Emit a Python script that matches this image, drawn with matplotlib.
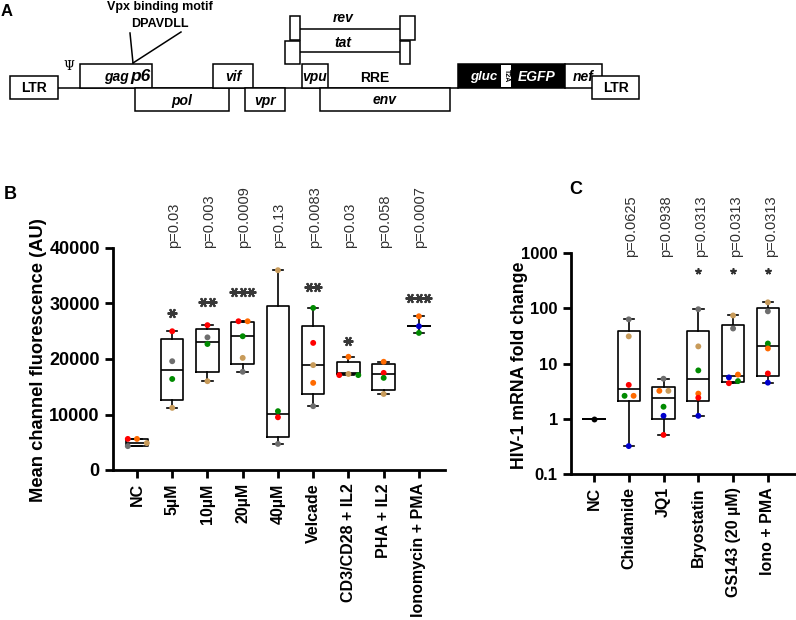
import matplotlib
matplotlib.use("Agg")
import matplotlib.pyplot as plt
from matplotlib.patches import Rectangle

plt.rcParams['font.family'] = ['Liberation Sans', 'DejaVu Sans']

# ---- panel B data ----
b_groups = ["NC", "5µM", "10µM", "20µM", "40µM", "Velcade",
            "CD3/CD28 + IL2", "PHA + IL2", "Ionomycin + PMA"]
# (min, q1, median, q3, max)
b_stats = [(4300, 4400, 4850, 5550, 5600),
           (11200, 12600, 18000, 23600, 25000),
           (16000, 17700, 23100, 25400, 26100),
           (17700, 19100, 24100, 26700, 26800),
           (4700, 5900, 10100, 29500, 36000),
           (11500, 13700, 18900, 25900, 29200),
           (17100, 17300, 17400, 19500, 20400),
           (13700, 14400, 17300, 19100, 19500),
           (24700, 25900, 25900, 25900, 27700)]
b_points = [[5600, 5600, 4300, 4860],
            [25000, 19600, 16400, 11200],
            [26100, 23900, 22700, 16000],
            [26800, 26800, 24100, 20200, 17700],
            [36000, 10600, 9500, 4700],
            [29200, 22900, 18900, 15700, 11500],
            [17100, 17300, 17100, 20400],
            [19500, 17500, 16600, 13700],
            [27700, 25900, 24700]]
b_colors = [["red", "orange", "gray", "tan"],
            ["red", "gray", "green", "tan"],
            ["red", "gray", "green", "tan"],
            ["red", "orange", "green", "tan", "gray"],
            ["tan", "green", "red", "gray"],
            ["green", "red", "tan", "orange", "gray"],
            ["red", "tan", "green", "orange"],
            ["orange", "red", "green", "tan"],
            ["orange", "blue", "green"]]
b_jitter = [[-0.26, 0, -0.26, 0.28], [0] * 4, [0] * 4, [-0.12, 0.14, 0, 0, 0],
            [0] * 4, [0] * 5, [-0.26, 0, 0.28, 0], [0] * 4, [0] * 3]
b_pvals = ["", "p=0.03", "p=0.003", "p=0.0009", "p=0.13", "p=0.0083",
           "p=0.03", "p=0.058", "p=0.0007"]
b_stars = [0, 1, 2, 3, 0, 2, 1, 0, 3]
b_star_y = [0, 28300, 30300, 32100, 0, 33000, 23200, 0, 31000]

# ---- panel C data ----
c_groups = ["NC", "Chidamide", "JQ1", "Bryostatin", "GS143 (20 µM)", "Iono + PMA"]
c_stats = [(1, 1, 1, 1, 1),
           (0.32, 2.1, 3.4, 38, 63),
           (0.51, 1.0, 2.4, 3.7, 5.3),
           (1.13, 2.1, 5.3, 38, 96),
           (4.4, 4.7, 6.0, 49, 74),
           (4.5, 6.0, 21, 100, 128)]
c_points = [[1.0],
            [63, 31, 4.1, 2.6, 2.6, 0.32],
            [5.3, 3.2, 3.2, 1.65, 1.13, 0.51],
            [96, 20.4, 7.5, 2.85, 2.4, 1.13],
            [74, 43, 6.3, 5.6, 4.8, 4.4],
            [128, 88, 23, 18.7, 6.6, 4.5]]
c_colors = [["black"],
            ["gray", "tan", "red", "green", "orange", "blue"],
            ["gray", "orange", "tan", "green", "blue", "red"],
            ["gray", "tan", "green", "orange", "red", "blue"],
            ["tan", "gray", "orange", "blue", "green", "red"],
            ["tan", "gray", "green", "orange", "red", "blue"]]
c_jitter = [[0], [0, 0, 0, -0.12, 0.14, 0], [0, -0.12, 0.14, 0, 0, 0],
            [0] * 6, [0, 0, 0.14, -0.12, 0.14, -0.12], [0] * 6]
c_pvals = ["", "p=0.0625", "p=0.0938", "p=0.0313", "p=0.0313", "p=0.0313"]
c_stars = [0, 0, 0, 1, 1, 1]
c_star_y = 470

palette = {"red": "#ff0000", "orange": "#ff6a00", "green": "#008a00",
           "gray": "#6e6e6e", "tan": "#c89b5a", "blue": "#0000cc", "black": "#000000"}

W, H = 796, 620
fig = plt.figure(figsize=(W / 100, H / 100), dpi=100)


def px_axes(l, t, r, b):
    return fig.add_axes([l / W, 1 - b / H, (r - l) / W, (b - t) / H])


# ================= panel A: genome diagram =================
axa = px_axes(0, 0, W, 140)
axa.set_xlim(0, W)
axa.set_ylim(140, 0)
axa.axis("off")

# (label, x0, x1, y0, y1, fill)
genes = [("LTR", 10, 58, 76, 99, "w"), ("", 80, 152, 64, 88, "w"),
         ("pol", 135, 229, 88, 111, "w"), ("vif", 213, 253, 64, 88, "w"),
         ("vpr", 245, 285, 88, 111, "w"), ("vpu", 302, 328, 64, 88, "w"),
         ("env", 320, 450, 88, 111, "w"), ("", 458, 565, 64, 88, "k"),
         ("nef", 565, 602, 64, 88, "w"), ("LTR", 592, 639, 76, 99, "w"),
         ("", 290, 300, 16, 40, "w"), ("", 400, 415, 16, 40, "w"),
         ("", 285, 300, 41, 64, "w"), ("", 400, 410, 41, 64, "w")]

axa.plot([58, 458], [88, 88], color="k", lw=1.1, zorder=1)
axa.plot([300, 400], [29, 29], color="k", lw=1.1)
axa.plot([300, 400], [52, 52], color="k", lw=1.1)
for lab, x0, x1, y0, y1, fc in genes:
    axa.add_patch(Rectangle((x0, y0), x1 - x0, y1 - y0, facecolor=fc,
                            edgecolor="k", lw=1.1, zorder=2))
    if lab:
        bold_only = lab == "LTR"
        axa.text((x0 + x1) / 2, (y0 + y1) / 2 + 1, lab, ha="center", va="center",
                 fontsize=10, fontweight="bold",
                 style="normal" if bold_only else "italic", zorder=3)

axa.text(116, 77, "gag", ha="center", va="center", fontsize=10,
         fontweight="bold", style="italic", zorder=3)
axa.text(141, 76, "p6", ha="center", va="center", fontsize=12.5,
         fontweight="bold", style="italic", zorder=3)
axa.plot([133, 130], [63, 33], color="k", lw=1.1)
axa.plot([133, 181], [63, 32], color="k", lw=1.1)
axa.text(160, 7, "Vpx binding motif", ha="center", va="center",
         fontsize=9, fontweight="bold")
axa.text(160, 24, "DPAVDLL", ha="center", va="center",
         fontsize=9, fontweight="bold")
axa.text(69, 67, "Ψ", ha="center", va="center", fontsize=9,
         family=["DejaVu Serif"])
axa.text(375, 78, "RRE", ha="center", va="center", fontsize=10, fontweight="bold")
axa.text(343, 18, "rev", ha="center", va="center", fontsize=10,
         fontweight="bold", style="italic")
axa.text(343, 43, "tat", ha="center", va="center", fontsize=10,
         fontweight="bold", style="italic")
axa.text(484, 77, "gluc", ha="center", va="center", fontsize=9.5,
         fontweight="bold", style="italic", color="w", zorder=3)
axa.text(537, 77, "EGFP", ha="center", va="center", fontsize=10,
         fontweight="bold", style="italic", color="w", zorder=3)
axa.add_patch(Rectangle((501, 65), 10, 22, facecolor="w", edgecolor="none", zorder=3))
axa.text(506, 76, "T2A", ha="center", va="center", fontsize=5,
         fontweight="bold", rotation=270, zorder=4)


# ================= box plot helper =================
def draw_panel(ax, stats, points, colors, jitter, dot_size, tick_size):
    bx = [dict(whislo=s[0], q1=s[1], med=s[2], q3=s[3], whishi=s[4], fliers=[])
          for s in stats]
    line = dict(color="k", linewidth=1.2)
    ax.bxp(bx, positions=range(len(bx)), widths=0.64, capwidths=0.3,
           showfliers=False, boxprops=line, whiskerprops=line, capprops=line,
           medianprops=line, manage_ticks=False)
    for i, (vals, cols, jit) in enumerate(zip(points, colors, jitter)):
        ax.scatter([i + j for j in jit], vals, s=dot_size,
                   c=[palette[c] for c in cols], zorder=5, linewidths=0)
    for sp in ["top", "right"]:
        ax.spines[sp].set_visible(False)
    for sp in ["left", "bottom"]:
        ax.spines[sp].set_linewidth(2)
    ax.tick_params(width=2, length=6)
    ax.tick_params(axis="y", labelsize=tick_size)


narrow = ["Liberation Sans Narrow", "Liberation Sans"]

# ================= panel B =================
axb = px_axes(113, 248, 445, 470)
draw_panel(axb, b_stats, b_points, b_colors, b_jitter, 18, 13)
axb.set_xlim(-0.68, 8.74)
axb.set_ylim(0, 40000)
axb.set_yticks([0, 10000, 20000, 30000, 40000])
axb.set_yticklabels(["0", "10000", "20000", "30000", "40000"], fontweight="bold")
axb.set_xticks(range(len(b_groups)))
axb.set_xticklabels(b_groups, rotation=90, fontweight="bold", fontsize=11.5)
axb.set_ylabel("Mean channel fluorescence (AU)", fontsize=13.2, fontweight="bold")
axb.yaxis.set_label_coords(-0.199, 0.495)
for i, p in enumerate(b_pvals):
    if p:
        axb.annotate(p, xy=(i, 1), xycoords=("data", "axes fraction"),
                     xytext=(1, 0), textcoords="offset points", rotation=90,
                     ha="center", va="bottom", fontsize=10.5, color="#303030",
                     family=narrow, annotation_clip=False)
    for k in range(b_stars[i]):
        off = (k - (b_stars[i] - 1) / 2) * 0.24
        axb.plot(i + off, b_star_y[i], marker=(6, 2, 90), ms=7, mew=1.5,
                 color="#383838", clip_on=False, zorder=6)

# ================= panel C =================
axc = px_axes(571, 253, 795, 474)
axc.set_yscale("log")
draw_panel(axc, c_stats, c_points, c_colors, c_jitter, 18, 12)
axc.set_xlim(-0.66, 5.78)
axc.set_ylim(0.1, 1000)
axc.set_yticks([0.1, 1, 10, 100, 1000])
axc.set_yticklabels(["0.1", "1", "10", "100", "1000"], fontweight="bold")
axc.minorticks_off()
axc.set_xticks(range(len(c_groups)))
axc.set_xticklabels(c_groups, rotation=90, fontweight="bold", fontsize=11.5)
axc.set_ylabel("HIV-1 mRNA fold change", fontsize=12.8, fontweight="bold")
axc.yaxis.set_label_coords(-0.19, 0.49)
for i, p in enumerate(c_pvals):
    if p:
        axc.annotate(p, xy=(i, 1), xycoords=("data", "axes fraction"),
                     xytext=(2, -3), textcoords="offset points", rotation=90,
                     ha="center", va="bottom", fontsize=10.5, color="#303030",
                     family=narrow, annotation_clip=False)
    if c_stars[i]:
        axc.plot(i, c_star_y, marker=(5, 2, 0), ms=4.5, mew=1.2,
                 color="#303030", clip_on=False, zorder=6)

fig.text(7 / W, 1 - 12 / H, "A", ha="center", va="center", fontsize=12, fontweight="bold")
fig.text(10 / W, 1 - 194 / H, "B", ha="center", va="center", fontsize=13, fontweight="bold")
fig.text(576 / W, 1 - 189 / H, "C", ha="center", va="center", fontsize=13, fontweight="bold")

fig.savefig("out.png", dpi=100)
